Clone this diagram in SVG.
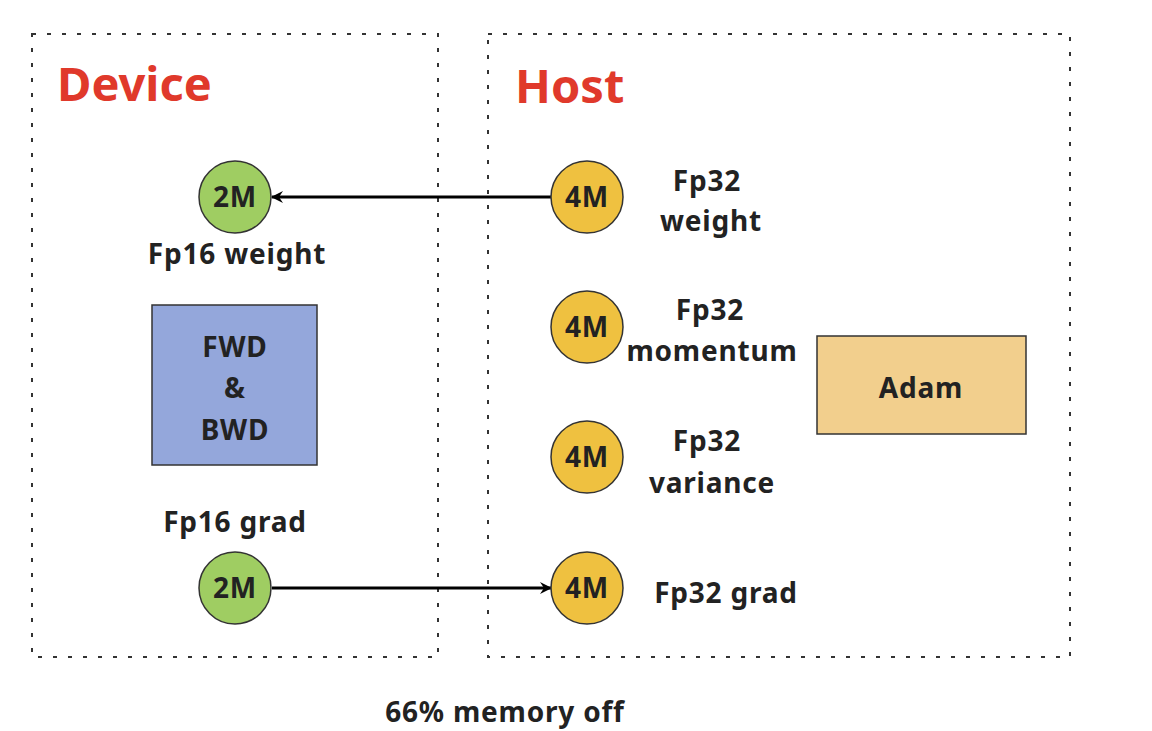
<svg xmlns="http://www.w3.org/2000/svg" width="1152" height="731" viewBox="0 0 1152 731">
<defs>
<style>
.frame{fill:none;stroke:#333;stroke-width:2;stroke-dasharray:4 11}
.title{font-family:"Noto Sans","Open Sans",sans-serif;font-weight:bold;font-size:47px;fill:#e0392b}
.t{font-family:"Noto Sans","Open Sans",sans-serif;font-weight:bold;font-size:28px;letter-spacing:0.8px;fill:#222;text-anchor:middle}
.green{fill:#9fcd62;stroke:#333;stroke-width:1.5}
.yellow{fill:#efc140;stroke:#333;stroke-width:1.5}
.conn{stroke:#000;stroke-width:3;fill:none}
</style>
<marker id="arr" viewBox="0 0 12 12" refX="11" refY="6" markerWidth="12" markerHeight="12" markerUnits="userSpaceOnUse" orient="auto">
<path d="M0,0 L12,6 L0,12 L4,6 Z" fill="#000"/>
</marker>
</defs>
<rect width="1152" height="731" fill="#fff"/>
<g id="device">
<rect class="frame" x="32" y="34" width="406" height="623"/>
<text class="title" x="57" y="101">Device</text>
</g>
<g id="host">
<rect class="frame" x="488" y="34" width="582" height="623"/>
<text class="title" x="515" y="103">Host</text>
</g>
<g id="connectors">
<line class="conn" x1="551" y1="197" x2="272" y2="197" marker-end="url(#arr)"/>
<line class="conn" x1="272" y1="588" x2="551" y2="588" marker-end="url(#arr)"/>
</g>
<g id="fp16-weight">
<circle class="green" cx="235" cy="197" r="36"/>
<text class="t" x="235" y="207">2M</text>
<text class="t" x="237" y="264">Fp16 weight</text>
</g>
<g id="fwd-bwd">
<rect x="152" y="305" width="165" height="160" fill="#94a7db" stroke="#333" stroke-width="1.5"/>
<text class="t" x="235" y="357">FWD</text>
<text class="t" x="235" y="398">&amp;</text>
<text class="t" x="235" y="440">BWD</text>
</g>
<g id="fp16-grad">
<text class="t" x="235" y="532">Fp16 grad</text>
<circle class="green" cx="235" cy="588" r="36"/>
<text class="t" x="235" y="598">2M</text>
</g>
<g id="fp32-weight">
<circle class="yellow" cx="587" cy="197" r="36"/>
<text class="t" x="587" y="207">4M</text>
<text class="t" x="707" y="191">Fp32</text>
<text class="t" x="711" y="231">weight</text>
</g>
<g id="fp32-momentum">
<circle class="yellow" cx="587" cy="327" r="36"/>
<text class="t" x="587" y="337">4M</text>
<text class="t" x="710" y="320">Fp32</text>
<text class="t" x="712" y="361">momentum</text>
</g>
<g id="fp32-variance">
<circle class="yellow" cx="587" cy="457" r="36"/>
<text class="t" x="587" y="467">4M</text>
<text class="t" x="707" y="451">Fp32</text>
<text class="t" x="712" y="493">variance</text>
</g>
<g id="fp32-grad">
<circle class="yellow" cx="587" cy="588" r="36"/>
<text class="t" x="587" y="598">4M</text>
<text class="t" x="726" y="603">Fp32 grad</text>
</g>
<g id="adam">
<rect x="817" y="336" width="209" height="98" fill="#f2cf8d" stroke="#333" stroke-width="1.5"/>
<text class="t" x="921" y="398">Adam</text>
</g>
<g id="note">
<text class="t" x="505" y="722">66% memory off</text>
</g>
</svg>
